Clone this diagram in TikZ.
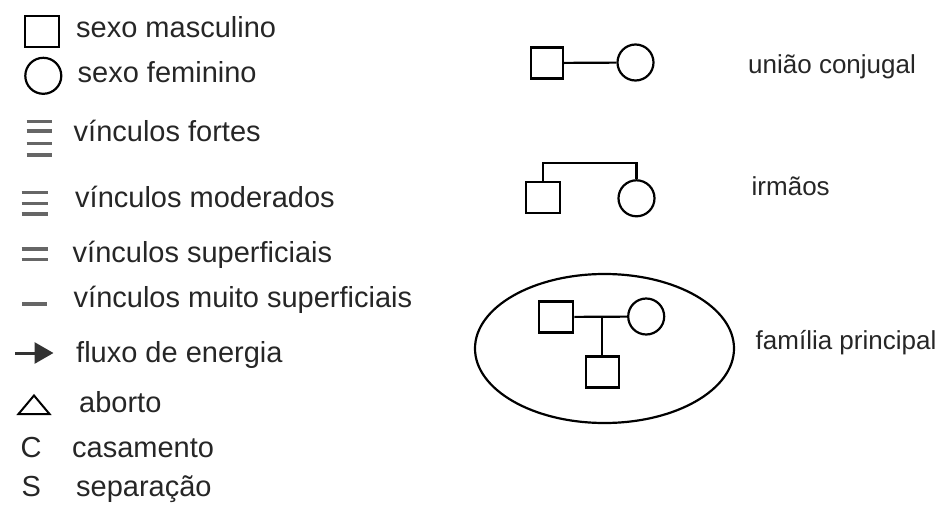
\documentclass[tikz,border=0pt]{standalone}
\usepackage{fontspec}
\setmainfont{Liberation Sans}
\usetikzlibrary{arrows.meta,calc}
\begin{document}
\begin{tikzpicture}[x=1pt,y=-1pt,
  lbl/.style={anchor=base west,inner sep=0pt,font=\fontsize{29}{31}\selectfont,text=black!85},
  rlbl/.style={lbl,font=\fontsize{26}{28}\selectfont},
  sq/.style={draw,line width=2.2pt,rectangle,minimum width=#1,minimum height=31pt,inner sep=0pt},
  sq/.default=33pt,
  ci/.style={draw,line width=2.2pt,circle,minimum size=36pt,inner sep=0pt},
  bond/.style={line width=3.2pt,draw=black!60},
  link/.style={line width=2.2pt}]
\useasboundingbox (0,0) rectangle (940,506);
% ---------- left legend ----------
\node[sq=34pt] (lsq) at (42,31.5) {};
\node[lbl] (tmasc) at (76,37.5) {sexo masculino};
\node[ci] (lci) at (43.3,75.8) {};
\node[lbl] (tfem) at (77.5,82) {sexo feminino};
% vinculos fortes
\foreach \yy in {121.7,131,143.3,155} \draw[bond] (26.7,\yy) -- (51.7,\yy);
\node[lbl] (tfor) at (73.5,141) {vínculos fortes};
% moderados
\foreach \yy in {192.7,203.3,214} \draw[bond] (21.7,\yy) -- (47.5,\yy);
\node[lbl] (tmod) at (75,207.5) {vínculos moderados};
% superficiais
\foreach \yy in {249,259.3} \draw[bond] (21.7,\yy) -- (48,\yy);
\node[lbl] (tsup) at (72.5,262.5) {vínculos superficiais};
% muito superficiais
\draw[bond] (22,304) -- (47,304);
\node[lbl] (tmui) at (73.5,307.5) {vínculos muito superficiais};
% fluxo de energia
\coordinate (ar1) at (15,353);
\coordinate (ar2) at (53.5,353);
\draw[line width=3pt,draw=black!80,-{Triangle[length=19pt,width=21pt]}] (ar1) -- (ar2);
\node[lbl] (tflu) at (76,362.5) {fluxo de energia};
% aborto
\draw[line width=2pt] (18.5,414) -- (34,395.5) -- (49.5,414) -- cycle;
\node[lbl] (tabo) at (79,412.5) {aborto};
% casamento / separacao
\node[lbl] (lc) at (20.5,457) {C};
\node[lbl] (tcas) at (72,457.5) {casamento};
\node[lbl] (ls) at (21.5,496.5) {S};
\node[lbl] (tsep) at (76,496) {separação};
% ---------- right side ----------
% uniao conjugal
\node[sq=32pt] (u1) at (546.8,63) {};
\node[ci] (u2) at (635.5,62.5) {};
\draw[link] (u1) -- (u2);
\node[rlbl] (tuni) at (748,73) {união conjugal};
% irmaos
\node[sq=34pt] (s1) at (542.8,197.5) {};
\node[ci] (s2) at (636.5,198.3) {};
\coordinate (btop) at (542.8,162.7);
\draw[link] (s1.north) -- (btop) -| (s2.north);
\node[rlbl] (tirm) at (751.5,195) {irmãos};
% familia principal
\draw[line width=2.2pt] (604.5,348.5) ellipse [x radius=129.5, y radius=74.5];
\node[sq=34pt] (f1) at (556.3,317) {};
\node[ci] (f2) at (646.2,316.5) {};
\node[sq=33pt] (f3) at (602.3,372) {};
\draw[link] (f1) -- (f2);
\coordinate (fj) at (f3.north |- f1.east);
\draw[link] (fj) -- (f3.north);
\node[rlbl] (tfam) at (755.5,349) {família principal};
\end{tikzpicture}
\end{document}
